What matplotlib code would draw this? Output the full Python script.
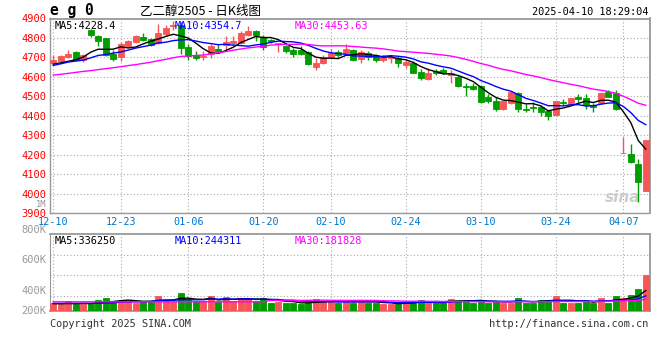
import matplotlib
matplotlib.use("Agg")
import matplotlib.pyplot as plt
import numpy as np
import pandas as pd

# ---------------- data ----------------
opens = [4669, 4684, 4701, 4728, 4689, 4843, 4812, 4800, 4718, 4701,
         4757, 4780, 4803, 4795, 4774, 4820, 4862, 4865, 4754, 4711,
         4703, 4718, 4745, 4762, 4776, 4774, 4817, 4837, 4807, 4788,
         4770, 4757, 4737, 4740, 4727, 4650, 4669, 4701, 4728, 4723,
         4739, 4694, 4725, 4710, 4689, 4696, 4698, 4659, 4669, 4626,
         4590, 4630, 4635, 4609, 4600, 4554, 4554, 4554, 4498, 4476,
         4434, 4468, 4515, 4436, 4447, 4447, 4422, 4405, 4470, 4461,
         4498, 4493, 4456, 4464, 4520, 4515, 4209, 4202, 4151, 4015]
highs = [4710, 4710, 4739, 4732, 4715, 4848, 4817, 4800, 4737, 4780,
         4789, 4817, 4826, 4800, 4872, 4865, 4885, 4882, 4769, 4732,
         4732, 4769, 4769, 4808, 4808, 4837, 4860, 4843, 4813, 4795,
         4775, 4766, 4749, 4757, 4735, 4698, 4711, 4744, 4737, 4769,
         4745, 4740, 4735, 4718, 4710, 4711, 4706, 4689, 4681, 4638,
         4647, 4642, 4647, 4633, 4608, 4566, 4566, 4558, 4510, 4495,
         4478, 4529, 4520, 4461, 4473, 4456, 4431, 4478, 4486, 4493,
         4510, 4510, 4468, 4519, 4532, 4532, 4291, 4253, 4176, 4275]
lows = [4664, 4681, 4698, 4686, 4676, 4805, 4761, 4706, 4681, 4684,
        4754, 4774, 4786, 4757, 4769, 4809, 4843, 4720, 4689, 4686,
        4689, 4698, 4732, 4737, 4764, 4769, 4812, 4786, 4740, 4774,
        4730, 4725, 4703, 4711, 4659, 4633, 4664, 4698, 4701, 4716,
        4684, 4669, 4689, 4677, 4677, 4672, 4652, 4647, 4621, 4582,
        4582, 4609, 4613, 4570, 4549, 4503, 4532, 4468, 4463, 4422,
        4432, 4461, 4419, 4419, 4419, 4397, 4376, 4405, 4453, 4458,
        4473, 4436, 4419, 4458, 4495, 4432, 4210, 4156, 3956, 4015]
closes = [4689, 4706, 4715, 4689, 4710, 4814, 4783, 4711, 4694, 4769,
          4786, 4808, 4791, 4762, 4826, 4851, 4865, 4749, 4706, 4698,
          4706, 4757, 4735, 4780, 4783, 4826, 4837, 4813, 4752, 4783,
          4773, 4732, 4720, 4720, 4664, 4672, 4701, 4722, 4711, 4745,
          4689, 4727, 4701, 4689, 4701, 4701, 4672, 4676, 4621, 4596,
          4621, 4621, 4618, 4621, 4554, 4549, 4537, 4473, 4478, 4436,
          4478, 4524, 4436, 4432, 4442, 4419, 4397, 4478, 4464, 4493,
          4486, 4453, 4444, 4519, 4498, 4436, 4210, 4163, 4058, 4275]
# volume, thousands of lots
volumes_k = [135, 109, 163, 109, 109, 109, 179, 212, 163, 179,
             152, 135, 163, 163, 245, 179, 152, 293, 179, 163,
             163, 245, 152, 228, 163, 212, 212, 163, 212, 135,
             152, 135, 135, 109, 135, 196, 163, 163, 135, 163,
             135, 179, 135, 135, 109, 109, 109, 163, 163, 179,
             135, 135, 147, 196, 179, 179, 135, 179, 135, 163,
             135, 135, 212, 135, 135, 179, 179, 245, 135, 135,
             135, 179, 135, 212, 135, 245, 212, 261, 359, 587]

ma5_head = [4665, 4672, 4680, 4688]
ma10_head = [4659, 4667, 4676, 4681, 4686, 4698, 4710, 4715, 4722]
ma30_head = [4609, 4613, 4618, 4623, 4628, 4632, 4637, 4642, 4647, 4652,
             4658, 4663, 4669, 4675, 4683, 4690, 4698, 4705, 4707, 4710,
             4712, 4718, 4724, 4730, 4737, 4743, 4749, 4753, 4757]
vma5_head = [120, 118, 122, 120]
vma10_head = [125, 125, 125, 124, 124, 125, 127, 130, 132]
vma30_head = [150] * 29

date_labels = ['12-10', '12-23', '01-06', '01-20', '02-10', '02-24', '03-10', '03-24', '04-07']
date_label_idx = [0, 9, 18, 28, 37, 47, 57, 67, 76]
price_ticks = [3900, 4000, 4100, 4200, 4300, 4400, 4500, 4600, 4700, 4800, 4900]
vol_tick_labels = ['1M', '800K', '600K', '400K', '200K']

ma_price_text = ['MA5:4228.4', 'MA10:4354.7', 'MA30:4453.63']
ma_vol_text = ['MA5:336250', 'MA10:244311', 'MA30:181828']

# ---------------- helpers ----------------
def moving_avg(vals, n, head):
    s = pd.Series(vals, dtype=float).rolling(n).mean().to_numpy()
    s[:len(head)] = head
    return s

O = np.array(opens, float); H = np.array(highs, float)
L = np.array(lows, float); C = np.array(closes, float)
V = np.array(volumes_k, float) * 1000
n = len(C)
x = np.arange(n)

ma5 = moving_avg(closes, 5, ma5_head)
ma10 = moving_avg(closes, 10, ma10_head)
ma30 = moving_avg(closes, 30, ma30_head)
vma5 = moving_avg(V, 5, np.array(vma5_head) * 1000.0)
vma10 = moving_avg(V, 10, np.array(vma10_head) * 1000.0)
vma30 = moving_avg(V, 30, np.array(vma30_head) * 1000.0)

RED = '#F65656'
GREEN = '#009C00'
GRID = '#AAAAAA'
FRAME = '#999999'
MONO = 'DejaVu Sans Mono'

up = C >= O
colors = np.where(up, RED, GREEN)

fig = plt.figure(figsize=(6.6, 3.6), dpi=100)
fig.patch.set_facecolor('white')

W, Hh = 660.0, 360.0
def axes_rect(left, top, right, bottom):
    return [left / W, 1 - bottom / Hh, (right - left) / W, (bottom - top) / Hh]

ax = fig.add_axes(axes_rect(49.5, 18.5, 649.5, 213))
axv = fig.add_axes(axes_rect(49.5, 234, 649.5, 311))

# ---------- price panel ----------
ax.set_xlim(-0.5, n - 0.5)
ax.set_ylim(3900, 4900)
body_bottom = np.minimum(O, C)
body_h = np.maximum(np.abs(C - O), 1.0)
ax.vlines(x, L, H, colors=colors, linewidth=1.0, zorder=3)
ax.bar(x, body_h, bottom=body_bottom, width=0.76, color=colors,
       edgecolor=colors, linewidth=0.6, zorder=4)
ax.plot(x, ma5, color='black', lw=1.0, zorder=5)
ax.plot(x, ma10, color='#0000FF', lw=1.0, zorder=5)
ax.plot(x, ma30, color='#FF00FF', lw=1.0, zorder=5)

ax.set_yticks(price_ticks)
ax.set_yticklabels([str(t) for t in price_ticks], color='#FF0000',
                   fontsize=7.5, family=MONO)
ax.set_xticks(date_label_idx)
ax.set_xticklabels(date_labels, color='#0077CC', fontsize=7.3, family=MONO)
ax.tick_params(axis='both', length=0, pad=2)
ax.tick_params(axis='x', pad=3)
ax.grid(True, color=GRID, linestyle=(0, (1, 2)), linewidth=0.8)
ax.set_axisbelow(True)
for side in ['top', 'right']:
    ax.spines[side].set_color(FRAME)
    ax.spines[side].set_linewidth(1.3)
for side in ['left', 'bottom']:
    ax.spines[side].set_color(FRAME)
    ax.spines[side].set_linestyle((0, (1, 1)))
    ax.spines[side].set_linewidth(1.0)

ma_x = [0.008, 0.208, 0.408]
ma_cols = ['black', '#0000FF', '#FF00FF']
for t, xx, c in zip(ma_price_text, ma_x, ma_cols):
    ax.text(xx, 0.988, t, transform=ax.transAxes, ha='left', va='top',
            color=c, fontsize=7.4, family=MONO, zorder=6)

# watermark
ax.text(0.985, 0.04, 'sina', transform=ax.transAxes, ha='right', va='bottom',
        color='#C8C8C8', fontsize=11, fontweight='bold', style='italic',
        family='DejaVu Sans', alpha=0.9, zorder=2)

# ---------- volume panel ----------
vtop = 1.255e6
axv.set_xlim(-0.5, n - 0.5)
axv.set_ylim(0, vtop)
axv.bar(x, V, width=0.76, color=colors, edgecolor=colors, linewidth=0.6, zorder=3)
axv.plot(x, vma5, color='black', lw=1.0, zorder=5)
axv.plot(x, vma10, color='#0000FF', lw=1.0, zorder=5)
axv.plot(x, vma30, color='#FF00FF', lw=1.0, zorder=5)
axv.set_xticks(date_label_idx)
axv.set_xticklabels([])
axv.set_yticks([vtop * 0.195, vtop * 0.468, vtop * 0.727])
axv.set_yticklabels([])
axv.tick_params(axis='both', length=0)
axv.grid(True, color=GRID, linestyle=(0, (1, 2)), linewidth=0.8)
axv.set_axisbelow(True)
for side in ['top', 'right', 'bottom']:
    axv.spines[side].set_color(FRAME)
    axv.spines[side].set_linewidth(1.3)
axv.spines['left'].set_color(FRAME)
axv.spines['left'].set_linestyle((0, (1, 1)))

vol_label_frac = [1.385, 1.05, 0.66, 0.26, 0.0]
vol_label_size = [6.3, 7.5, 7.5, 7.5, 7.5]
for t, fy, fs in zip(vol_tick_labels, vol_label_frac, vol_label_size):
    axv.text(-0.005, fy, t, transform=axv.transAxes, ha='right', va='center',
             color='#999999', fontsize=fs, family=MONO, clip_on=False)
for t, xx, c in zip(ma_vol_text, ma_x, ma_cols):
    axv.text(xx, 0.97, t, transform=axv.transAxes, ha='left', va='top',
             color=c, fontsize=7.4, family=MONO, zorder=6)

# ---------- header / footer ----------
fig.text(50 / W, 1 - 11 / Hh, 'e g 0', ha='left', va='center', fontsize=10.5,
         fontweight='bold', family=MONO, color='black')
fig.text(140 / W, 1 - 11 / Hh, '乙二醇2505 - 日K线图', ha='left', va='center',
         fontsize=9.0, family=['Noto Sans CJK SC', 'DejaVu Sans'], color='black')
fig.text(648 / W, 1 - 12 / Hh, '2025-04-10 18:29:04', ha='right', va='center',
         fontsize=7.4, family=MONO, color='black')
fig.text(50 / W, 1 - 324 / Hh, 'Copyright 2025 SINA.COM', ha='left', va='center',
         fontsize=7.4, family=MONO, color='#333333')
fig.text(648 / W, 1 - 324 / Hh, 'http://finance.sina.com.cn', ha='right', va='center',
         fontsize=7.4, family=MONO, color='#333333')

fig.savefig('out.png', dpi=100, facecolor='white')
